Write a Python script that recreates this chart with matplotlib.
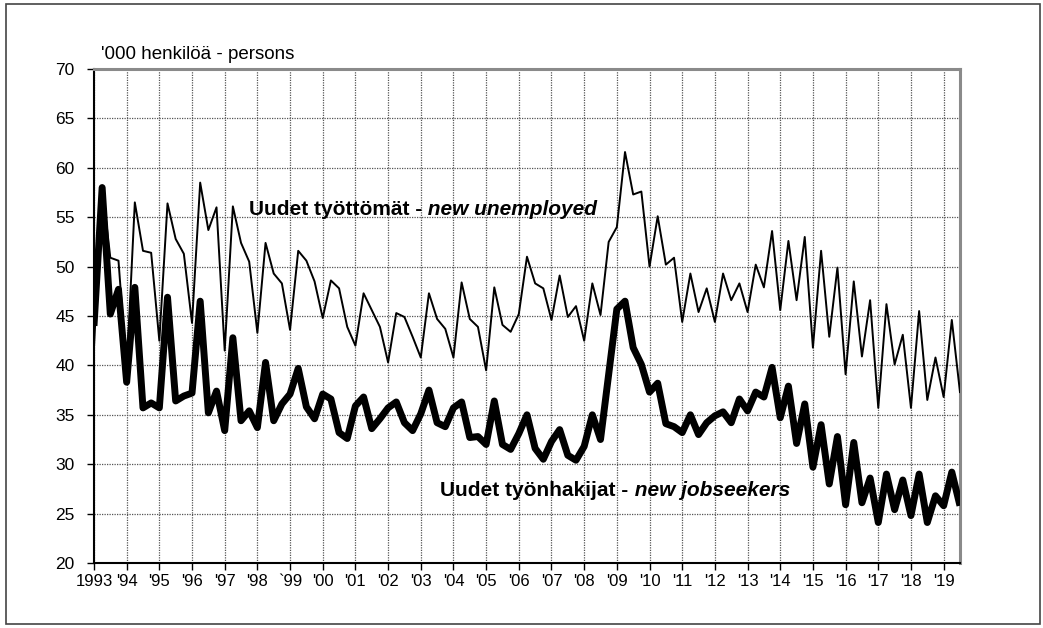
import numpy as np
import matplotlib

matplotlib.use("Agg")
import matplotlib.pyplot as plt
from matplotlib.patches import Rectangle

plt.rcParams["font.family"] = ["Liberation Sans", "DejaVu Sans"]

# quarterly values, 1993Q1 .. 2019Q3, '000 persons
new_unemployed = [
    41.8, 58.2, 50.9, 50.6,  # 1993
    39.5, 56.5, 51.6, 51.4,  # 1994
    42.5, 56.4, 52.8, 51.3,  # 1995
    44.3, 58.5, 53.7, 56.0,  # 1996
    41.5, 56.1, 52.4, 50.5,  # 1997
    43.3, 52.4, 49.3, 48.3,  # 1998
    43.6, 51.6, 50.6, 48.5,  # 1999
    44.8, 48.6, 47.8, 43.9,  # 2000
    42.0, 47.3, 45.6, 43.9,  # 2001
    40.3, 45.3, 44.9, 42.9,  # 2002
    40.8, 47.3, 44.7, 43.7,  # 2003
    40.8, 48.4, 44.7, 43.9,  # 2004
    39.5, 47.9, 44.1, 43.4,  # 2005
    45.2, 51.0, 48.3, 47.8,  # 2006
    44.6, 49.1, 44.9, 46.0,  # 2007
    42.5, 48.3, 45.1, 52.5,  # 2008
    54.0, 61.6, 57.3, 57.6,  # 2009
    50.0, 55.1, 50.2, 50.9,  # 2010
    44.4, 49.3, 45.4, 47.8,  # 2011
    44.4, 49.3, 46.6, 48.3,  # 2012
    45.4, 50.2, 47.9, 53.6,  # 2013
    45.6, 52.6, 46.6, 53.0,  # 2014
    41.8, 51.6, 42.9, 49.9,  # 2015
    39.1, 48.5, 40.9, 46.6,  # 2016
    35.7, 46.2, 40.1, 43.1,  # 2017
    35.7, 45.5, 36.5, 40.8,  # 2018
    36.8, 44.6, 37.3,        # 2019
]

new_jobseekers = [
    44.0, 58.0, 45.2, 47.7,  # 1993
    38.3, 47.9, 35.7, 36.2,  # 1994
    35.7, 46.9, 36.4, 36.9,  # 1995
    37.2, 46.5, 35.2, 37.4,  # 1996
    33.4, 42.8, 34.4, 35.4,  # 1997
    33.7, 40.3, 34.4, 36.1,  # 1998
    37.1, 39.7, 35.8, 34.6,  # 1999
    37.1, 36.6, 33.2, 32.6,  # 2000
    35.9, 36.8, 33.6, 34.6,  # 2001
    35.7, 36.3, 34.2, 33.4,  # 2002
    35.1, 37.5, 34.2, 33.8,  # 2003
    35.7, 36.3, 32.7, 32.8,  # 2004
    32.0, 36.4, 32.0, 31.5,  # 2005
    33.1, 35.0, 31.6, 30.5,  # 2006
    32.3, 33.5, 30.9, 30.4,  # 2007
    31.8, 35.0, 32.5, 39.1,  # 2008
    45.7, 46.5, 41.8, 40.1,  # 2009
    37.3, 38.2, 34.1, 33.8,  # 2010
    33.2, 35.0, 33.0, 34.2,  # 2011
    34.9, 35.3, 34.2, 36.6,  # 2012
    35.4, 37.3, 36.8, 39.8,  # 2013
    34.7, 37.9, 32.1, 36.1,  # 2014
    29.7, 34.0, 28.0, 32.8,  # 2015
    25.9, 32.2, 26.1, 28.6,  # 2016
    24.1, 29.0, 25.4, 28.4,  # 2017
    24.8, 29.0, 24.1, 26.8,  # 2018
    25.8, 29.2, 25.8,        # 2019
]

years = list(range(1993, 2020))
year_labels = ["1993", "'94", "'95", "'96", "'97", "'98", "`99", "'00", "'01",
               "'02", "'03", "'04", "'05", "'06", "'07", "'08", "'09", "'10",
               "'11", "'12", "'13", "'14", "'15", "'16", "'17", "'18", "'19"]

x = 1993 + np.arange(len(new_unemployed)) / 4

fig = plt.figure(figsize=(10.43, 6.28), dpi=100)
ax = fig.add_axes([0.0901, 0.1035, 0.8303, 0.7866])

ax.plot(x, new_unemployed, color="black", lw=1.4, zorder=3)
ax.plot(x, new_jobseekers, color="black", lw=5.0, zorder=4,
        solid_joinstyle="round", solid_capstyle="butt")

ax.set_xlim(1993, 2019.5)
ax.set_ylim(20, 70)
ax.set_yticks(range(20, 71, 5))
ax.set_xticks(years)
ax.set_xticklabels(year_labels)
ax.tick_params(axis="both", labelsize=12, direction="out", length=5,
               width=1, color="black")
ax.tick_params(axis="x", pad=3)
ax.tick_params(axis="y", labelsize=12.5, pad=9)

ax.grid(True, color="#555555", linestyle=(0, (1, 1)), linewidth=0.9)
ax.set_axisbelow(True)

for side in ("left", "bottom"):
    ax.spines[side].set_color("black")
    ax.spines[side].set_linewidth(1.5)
for side in ("top", "right"):
    ax.spines[side].set_color("#8a8a8a")
    ax.spines[side].set_linewidth(2.2)

ax.text(1993.2, 70.6, "'000 henkilöä - persons", fontsize=13.5,
        ha="left", va="bottom")

t1 = ax.text(1997.75, 54.8, "Uudet työttömät -", fontsize=15,
             fontweight="bold", ha="left", va="bottom", zorder=5)
ax.annotate(" new unemployed", xy=(1, 0), xycoords=t1, fontsize=15,
            fontweight="bold", fontstyle="italic", ha="left", va="bottom",
            zorder=5)

t2 = ax.text(2003.6, 26.4, "Uudet työnhakijat -", fontsize=15,
             fontweight="bold", ha="left", va="bottom", zorder=5)
ax.annotate(" new jobseekers", xy=(1, 0), xycoords=t2, fontsize=15,
            fontweight="bold", fontstyle="italic", ha="left", va="bottom",
            zorder=5)

fig.patches.append(Rectangle((6 / 1043, 4 / 628), 1034 / 1043, 620 / 628,
                             transform=fig.transFigure, fill=False,
                             edgecolor="#444444", linewidth=1.2))

fig.savefig("out.png", dpi=100)
